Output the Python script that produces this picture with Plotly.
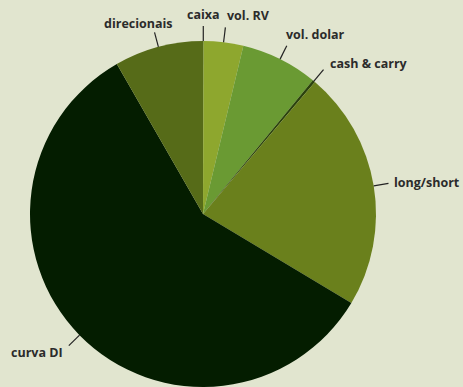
import math
import plotly.graph_objects as go

labels = ["caixa", "vol. RV", "vol. dolar", "cash & carry", "long/short", "curva DI", "direcionais"]
values = [0.05, 3.7, 7.2, 0.25, 22.4, 58.1, 8.3]
colors = ["#3c5a10", "#8ea72e", "#6a9a33", "#2b420c", "#6a801c", "#041d00", "#566b18"]

W, H = 463, 387
BG = "#e1e5cf"
dom_x = [0.0, 406 / W]
dom_y = [0.0, 346 / H]

# pie geometry in pixels (derived from domain)
cx = W * (dom_x[0] + dom_x[1]) / 2
cy = H - H * (dom_y[0] + dom_y[1]) / 2
R = min(W * (dom_x[1] - dom_x[0]), H * (dom_y[1] - dom_y[0])) / 2

fig = go.Figure(go.Pie(
    labels=labels, values=values, sort=False, direction="clockwise", rotation=0,
    marker=dict(colors=colors, line=dict(width=0)),
    textinfo="none", hoverinfo="label+percent", showlegend=False,
    domain=dict(x=dom_x, y=dom_y),
))

def px2paper(x, y):
    return x / W, 1 - y / H

total = sum(values)
cum = 0.0
shapes, annotations = [], []
font = dict(family="Open Sans, Lato, sans-serif", size=12.5, color="#2b2b2b", weight="bold")
for lab, v in zip(labels, values):
    mid = (cum + v / 2) / total * 2 * math.pi
    cum += v
    s, c = math.sin(mid), -math.cos(mid)
    x0, y0 = cx + R * s, cy + R * c
    L = 15
    x1, y1 = cx + (R + L) * s, cy + (R + L) * c
    p0 = px2paper(x0, y0)
    p1 = px2paper(x1, y1)
    shapes.append(dict(type="line", xref="paper", yref="paper", x0=p0[0], y0=p0[1],
                       x1=p1[0], y1=p1[1], line=dict(color="#222222", width=1.2)))
    if -c > 0.85:
        xshift = 0
        dy = -1
        if abs(s) < 0.02:
            xa = "center"
        elif s > 0:
            xa = "left"
            xshift = -3 if s > 0.3 else 0
        else:
            xa = "right"
            xshift = 20
            dy = 2
        tx, ty = px2paper(x1, y1 + dy)
        annotations.append(dict(x=tx, y=ty, xref="paper", yref="paper", text=lab,
                                showarrow=False, xanchor=xa, yanchor="bottom",
                                xshift=xshift, font=font))
    else:
        xa = "left" if s > 0 else "right"
        gap = 4
        tx, ty = px2paper(x1 + gap * (1 if s > 0 else -1), y1 + 9 * c + 1)
        annotations.append(dict(x=tx, y=ty, xref="paper", yref="paper", text=lab,
                                showarrow=False, xanchor=xa, yanchor="middle", font=font))

fig.update_layout(
    width=W, height=H, paper_bgcolor=BG, plot_bgcolor=BG,
    margin=dict(l=0, r=0, t=0, b=0),
    shapes=shapes, annotations=annotations,
)
fig.write_html(
    "out.html",
    config={"displayModeBar": False},
    post_script="document.body.style.margin='0';document.body.style.overflow='hidden';"
                "document.body.style.background='" + BG + "';",
)
